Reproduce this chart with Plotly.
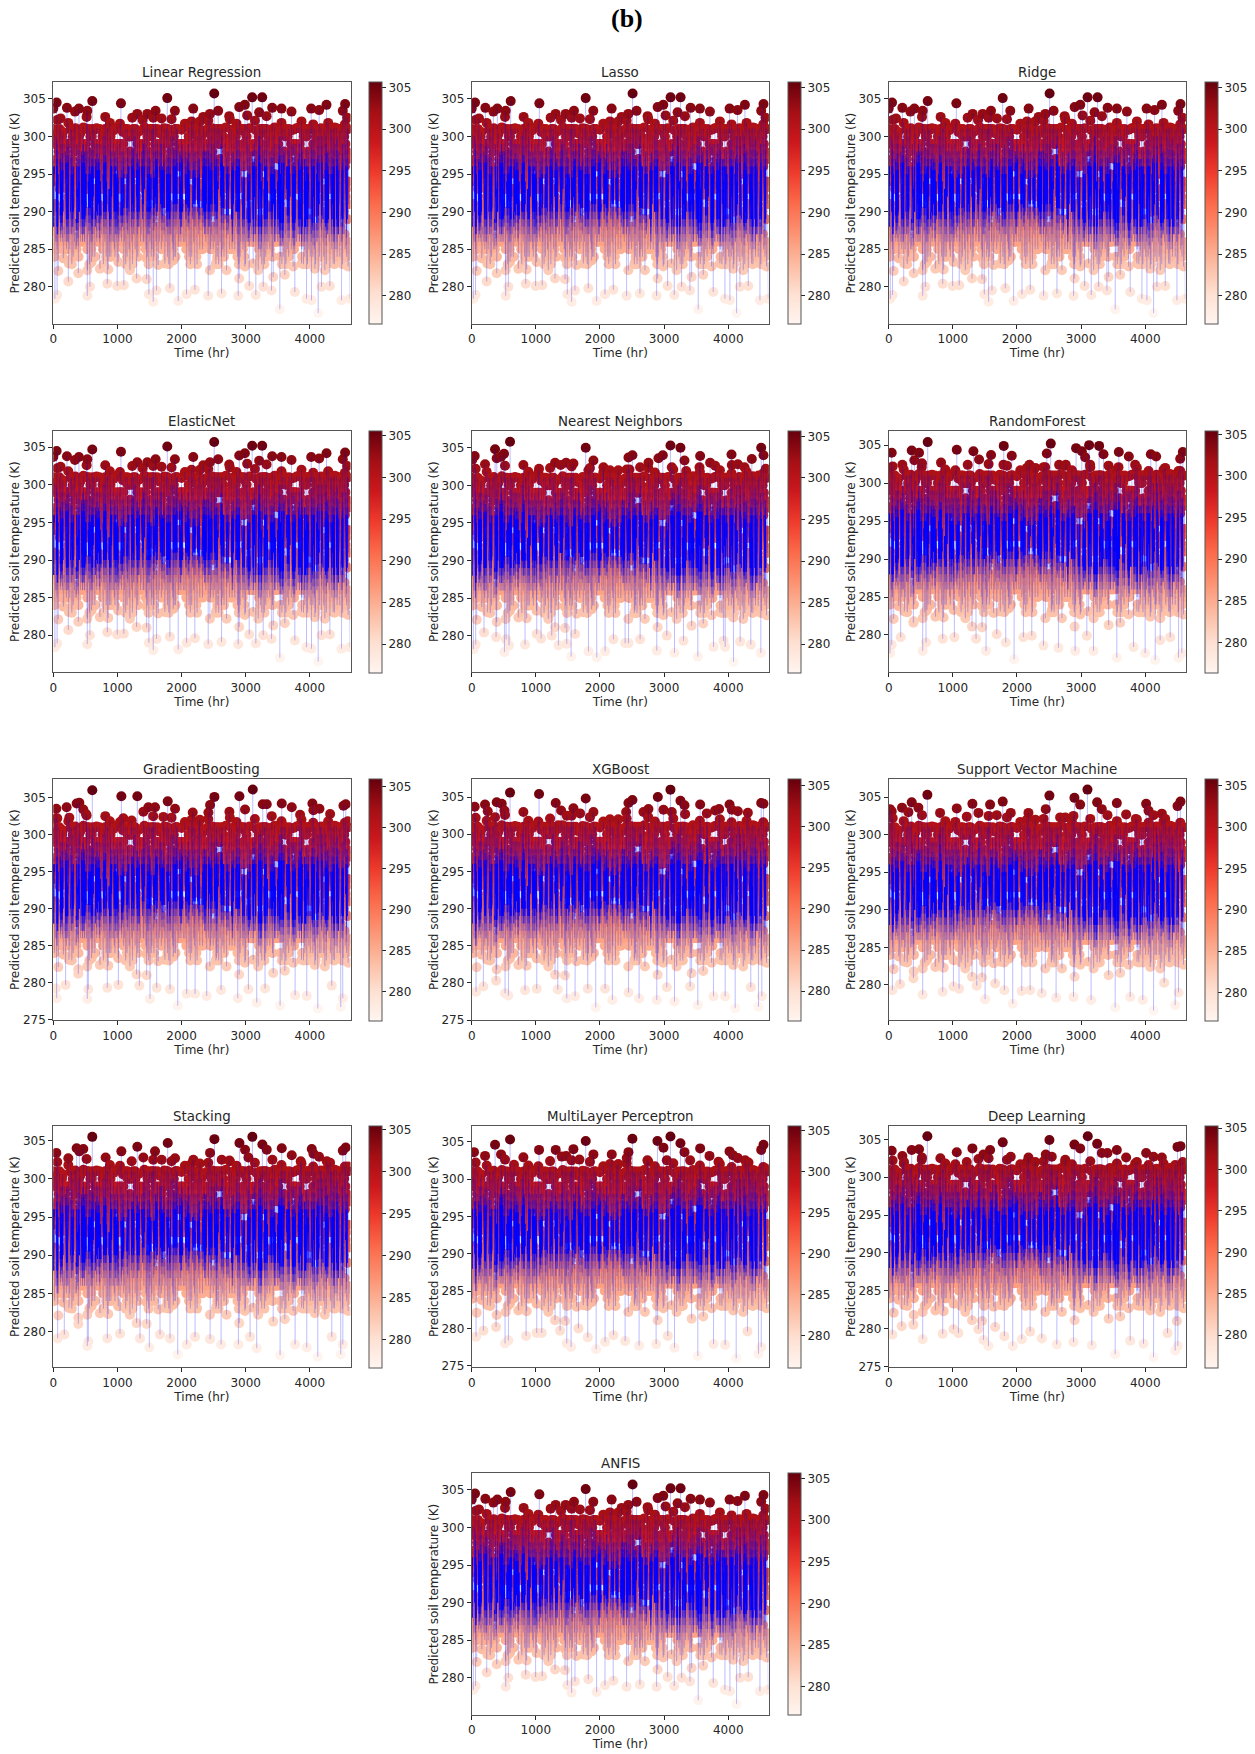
import numpy as np
import plotly.graph_objects as go

NAMES = ["Linear Regression","Lasso","Ridge","ElasticNet","Nearest Neighbors","RandomForest","GradientBoosting","XGBoost","Support Vector Machine","Stacking","MultiLayer Perceptron","Deep Learning","ANFIS"]
Y_MIN = [275.05,275.05,275.05,275.05,275.1,275.07,274.9,274.95,275.28,275.3,274.78,274.87,275.05]
Y_MAX = [307.2,307.2,307.2,307.2,307.27,306.9,307.56,307.47,307.45,306.96,307.14,306.8,307.2]
C_MIN = [276.6,276.6,276.6,276.6,276.6,276.4,276.5,276.4,276.6,276.7,276.1,276.1,276.6]
C_MAX = [305.65,305.65,305.65,305.65,305.7,305.45,306.0,305.9,305.9,305.5,305.6,305.3,305.65]
X_TICKS = [0,1000,2000,3000,4000]
Y_TICKS = [275,280,285,290,295,300,305]
C_TICKS = [280,285,290,295,300,305]

# dense body of the record, read as an estimate (hourly detail cannot be resolved in the picture)
BAND_STEP_HR = 5.25
BAND = [
301,288,296,284,299,291,294,286,300,290,297,285,299,287,295,285,
298,289,300,293,296,286,299,287,294,288,300,286,297,290,299,285,
295,287,299,286,298,291,296,285,299,289,293,286,299,292,297,287,
299,285,295,290,301,287,297,283,294,288,300,284,296,291,301,286,
298,285,300,289,295,285,299,292,293,286,294,284,300,290,296,288,
299,286,297,287,298,291,295,286,299,287,296,289,298,286,293,290,
299,288,296,286,301,285,298,293,294,287,301,283,297,290,300,286,
295,285,300,289,296,284,301,292,298,287,293,284,299,288,297,290,
298,286,295,287,299,291,296,288,298,286,297,286,294,289,299,287,
297,293,300,285,295,283,299,290,296,286,301,288,298,284,294,291,
301,287,297,285,299,290,293,284,300,289,300,284,296,292,298,286,
294,288,299,286,297,285,298,291,296,287,299,286,293,290,298,286,
298,289,294,286,299,287,297,293,299,287,295,286,298,288,296,290,
299,285,298,286,293,291,301,283,297,289,295,284,301,287,300,292,
296,285,300,284,298,290,294,288,300,286,297,283,295,293,301,287,
300,289,296,285,300,285,293,292,298,286,299,284,297,288,295,290,
298,287,299,286,296,287,298,291,294,289,298,286,299,286,297,293,
295,288,299,285,301,292,296,284,300,287,293,283,298,290,301,286,
297,289,295,284,300,285,301,293,296,287,301,284,294,288,299,292,
298,286,297,286,295,290,299,287,298,288,296,286,299,287,293,291,
299,285,298,289,296,286,294,293,300,287,299,285,297,292,295,286,
301,288,293,284,301,291,297,283,299,289,296,284,300,287,298,290,
295,286,300,285,297,293,300,284,294,288,301,284,296,290,301,287,
298,291,293,286,299,286,296,289,298,287,294,286,299,288,297,290,
299,287,296,286,298,293,294,286,299,289,298,285,295,286,297,291,
299,288,300,284,293,290,298,283,296,287,301,284,301,289,295,292,
297,286,301,285,299,293,295,288,298,284,294,283,300,290,296,287,
301,289,297,285,299,286,293,292,300,286,296,285,298,288,295,290,
299,287,298,286,294,286,298,293,296,289,299,287,298,286,297,288,
295,292,299,285,296,287,300,286,298,290,293,285,299,288,297,286,
301,291,295,283,300,287,301,284,294,293,299,283,296,289,301,286,
297,292,299,284,293,288,301,285,300,287,296,284,294,291,299,289,
299,286,297,286,298,293,295,287,298,288,299,285,296,287,294,292,
299,289,300,285,296,286,298,291,293,286,299,285,297,288,300,290,
295,287,299,284,301,293,294,283,297,289,301,284,298,286,296,291,
301,288,294,285,299,290,296,284,301,287,298,283,293,292,300,286,
297,289,299,286,294,293,299,287,296,288,298,286,298,287,295,290,
298,286,296,286,299,292,293,287,294,289,299,286,298,288,298,291,
295,287,300,285,297,293,301,284,296,286,294,283,299,292,301,288,
298,289,293,283,301,291,296,284,301,287,297,285,294,290,300,286,
299,288,296,285,298,293,294,286,300,289,299,284,297,287,300,291,
295,286,298,286,293,290,299,287,298,288,294,286,299,291,297,287,
300,289,295,284,301,292,297,283,293,286,301,284,296,290,298,288,
301,287,300,283,294,293,296,285,300,289,297,284,301,286,295,292,
298,290,299,285,293,288,299,286,295,287,294,285,299,291,296,289,
299,286,298,286,294,293,298,287,297,288,295,286,299,290,298,287,
296,289,301,284,298,291,293,283,300,286,297,284,294,288,301,292,
300,287,296,283,301,293,298,285,294,289,301,284,295,286,297,291,
301,288,293,284,299,292,296,285,301,287,298,283,300,290,295,286,
297,293,300,285,294,291,299,284,296,288,301,284,298,287,300,290,
299,286,295,284,301,292,297,285,293,288,300,283,296,290,298,287,
295,289,299,286,298,293,294,284,301,287,296,285,300,291,297,288,
301,286,293,283,297,290,299,285,295,289,298,284,300,292,296,287,
298,291,300,284,294,288,301,286,296,293,299,283,295,287,297,290,
300,287,296,285,299,292,293,284,298,289,301,286,294,291,297,285,
]
# upper and lower edge of the saturated blue core, one reading per 84 hr
CORE_STEP_HR = 84
CORE_HI = [296,295.5,296.5,295,296,296.5,295,296,295.5,296.5,296,295,294.5,295,296,295.5,296,295,294.5,296,295.5,295,296,296.5,295,295.5,294.5,295,296,295.5,296,296.5,295,295.5,296,294.5,295,296,296.5,296,295,295.5,296.5,296,295,295.5,296,295,296,296.5,295.5,295,296,295.5,296]
CORE_LO = [288,289.5,289,290,288.5,289,290.5,289,289.5,290,289,290,289.5,290.5,290,290,291,290,290.5,291,290.5,290,291,290,291,290.5,291,290.5,290,291,290,290.5,289.5,289,290,289,288.5,289,288,289,290,289,288.5,289.5,288.5,289,288,289,288.5,289.5,288.5,289,288,289,288.5]
# crowd of dots along the upper and lower edges of the body
TOP_CROWD_H = [62,234,519,675,883,1039,1558,1844,2052,2156,2286,2416,2753,2857,3143,3558,3792,3870,4052,4286,4416,4546]
TOP_CROWD_T = [302.2,301.8,302.6,301.1,301.8,301.7,302.5,302.3,301.7,302.0,302.0,302.1,302.3,301.7,302.1,301.8,301.1,302.0,301.6,301.8,301.1,301.6]
TOP_FILL_H = [20,95,150,285,345,420,470,570,640,720,790,850,940,1000,1085,1150,1215,1275,1345,1420,1490,1530,1620,1665,1730,1800,1870,1935,2000,2110,2210,2260,2350,2390,2475,2540,2620,2690,2780,2815,2930,2965,3060,3165,3235,3290,3370,3450,3510,3610,3680,3745,3830,3905,3970,4100,4175,4240,4335,4385,4460,4600]
TOP_FILL_T = [300.3,301.0,300.6,300.9,301.1,300.4,301.2,300.7,300.9,301.0,300.5,301.1,300.8,301.2,300.6,300.2,300.9,301.0,300.7,301.2,300.6,300.9,301.0,300.4,301.1,300.8,300.6,301.0,300.9,301.2,300.7,301.0,300.5,300.9,301.1,300.6,300.8,301.2,300.9,300.4,301.0,300.7,301.1,300.8,300.5,301.0,300.9,301.2,300.6,301.0,300.7,300.9,301.2,300.5,301.0,300.8,301.1,300.6,300.9,301.2,300.7,301.0]
MID_FILL_H = [15,60,110,165,215,262,310,355,405,460,510,560,605,655,705,745,800,845,895,950,990,1040,1095,1140,1190,1240,1290,1335,1385,1430,1480,1525,1575,1625,1670,1720,1765,1815,1860,1910,1960,2005,2055,2100,2145,2195,2245,2295,2340,2385,2435,2485,2530,2580,2625,2675,2720,2770,2815,2865,2910,2960,3010,3055,3105,3150,3200,3250,3295,3345,3390,3440,3490,3535,3585,3630,3680,3725,3775,3820,3870,3915,3965,4015,4060,4110,4155,4205,4255,4300,4350,4395,4445,4490,4540,4585]
MID_FILL_T = [295,290,297,288,295,291,296,289,294,290,298,288,295,290,297,289,296,291,295,288,294,290,297,289,295,291,296,288,294,290,298,289,295,291,297,288,296,290,295,289,294,291,297,288,295,290,296,289,298,291,295,288,294,290,297,289,296,291,295,288,294,290,297,289,295,291,298,288,296,290,295,289,294,291,297,288,295,290,296,289,298,291,295,288,294,290,297,289,296,291,295,288,294,290,297,289]
LOW_CROWD_H = [78,156,244,390,530,597,649,727,857,961,1013,1195,1299,1455,1455,1636,1740,1870,2442,2546,2701,2899,2987,3117,3195,3429,3610,3740,3870,4078,4234,4364,4519,4597]
LOW_CROWD_T = [282.1,283.8,283.1,281.8,282.2,283.3,284.0,282.4,282.3,284.0,283.3,282.2,281.1,283.8,281.0,282.9,283.1,283.5,282.2,283.3,282.2,281.1,282.7,283.1,282.2,281.3,281.6,282.7,283.1,282.4,282.2,283.1,283.3,282.7]
# hours where the orange body shows through the blue strands
STREAK_H = [30,90,170,250,340,420,530,640,760,850,930,1030,1120,1200,1280,1360,1440,1540,1640,1750,1850,1950,2040,2150,2230,2300,2400,2490,2590,2680,2760,2830,2920,3000,3090,3180,3270,3360,3480,3620,3710,3800,3900,4000,4090,4160,4220,4310,4400,4470,4540,4600]

# individually visible upper dots (hr, K)
LR_TOP_H = [0,52,213,338,400,530,608,810,1055,114,1231,1309,1392,1465,1595,1688,1777,1896,2182,2338,2442,2509,2571,2743,2899,2987,3023,3101,3210,3257,3325,3413,3558,3714,4021,4145,4260,4514,4550,4582]
LR_TOP_T = [303.7,304.5,303.8,303.3,303.7,303.4,304.7,302.6,304.4,302.4,302.5,303.0,302.2,303.0,303.4,302.4,305.1,303.4,303.7,302.6,303.0,305.7,303.4,302.7,303.9,304.2,302.8,305.2,303.2,305.2,302.7,303.8,303.7,303.3,303.7,303.5,304.2,303.4,304.3,302.5]
LR_LOW_H = [25,60,234,530,571,842,997,1100,1491,1558,1610,1818,1948,2078,2208,2415,2623,2883,3055,3158,3273,3403,3532,3766,3948,4026,4130,4182,4312,4494,4623]
LR_LOW_T = [278.4,278.9,280.7,278.8,280.0,280.4,280.1,280.2,279.0,278.0,279.5,279.8,278.1,279.0,279.6,278.8,279.1,278.8,280.1,278.9,280.0,279.5,277.0,279.3,278.4,278.2,276.5,280.0,280.1,278.2,278.4]

NN_TOP_H = [10,47,208,364,390,458,504,598,806,1050,1222,1300,1388,1472,1586,1778,1820,1898,2054,2444,2460,2506,2626,2756,2912,2980,3099,3120,3255,3318,3344,3552,3562,3718,3796,4051,4056,4150,4254,4295,4368,4472,4514,4550,4586]
NN_TOP_T = [303.4,303.9,302.8,304.8,303.6,303.8,304.2,305.8,302.7,302.2,302.3,303.0,302.7,303.0,302.9,305.0,302.0,303.3,302.4,303.7,302.1,304.0,302.4,303.0,303.6,304.0,305.3,302.4,305.0,303.3,301.9,302.4,303.9,303.0,302.6,304.1,302.7,302.8,302.4,301.4,303.5,301.3,305.0,304.0,302.2]
NN_LOW_H = [26,62,192,380,510,536,582,832,1014,1082,1248,1352,1482,1550,1612,1820,1950,2080,2210,2392,2444,2626,2886,3042,3162,3302,3526,3770,3926,3952,4082,4186,4352,4508]
NN_LOW_T = [278.2,278.8,280.4,279.8,277.8,279.5,278.7,278.8,280.2,279.6,280.0,278.7,278.9,277.2,280.2,277.9,277.1,277.9,279.5,279.0,279.0,279.5,278.0,280.0,277.7,279.3,277.2,278.5,279.3,278.5,276.5,279.2,278.8,277.7]

RF_TOP_H = [0,47,213,359,400,473,515,608,816,1061,1232,1321,1409,1596,1789,1794,1919,2194,2439,2465,2527,2657,2761,2922,3011,3063,3125,3141,3281,3349,3427,3583,3588,3744,3843,4087,4170,4311,4519,4545,4586]
RF_TOP_T = [302.0,304.0,302.4,304.3,303.0,304.0,302.1,305.4,302.7,304.4,302.4,304.2,303.1,303.7,302.4,304.9,303.6,302.4,302.1,303.9,305.2,302.4,302.4,304.6,304.2,303.4,305.0,302.4,304.9,303.8,302.3,302.1,304.1,303.5,302.4,303.8,303.5,302.0,301.6,303.2,304.1]
RF_LOW_H = [20,47,187,385,530,582,842,1024,1362,1518,1685,1825,1955,2100,2231,2413,2647,2907,3089,3193,3557,3817,3999,4155,4233,4389,4519,4571]
RF_LOW_T = [277.6,278.7,279.7,281.6,277.9,279.0,279.5,279.7,279.5,277.9,280.1,279.0,276.8,279.7,279.9,278.6,278.3,277.9,279.9,277.9,277.0,278.4,277.6,276.7,279.3,279.7,277.0,277.6]

GB_TOP_H = [26,47,208,250,364,406,468,510,608,811,1061,1092,1222,1310,1404,1482,1586,1716,1784,1898,2174,2278,2418,2444,2512,2746,2902,2990,3110,3266,3328,3406,3562,3718,3848,4040,4056,4150,4316,4524,4560,4592]
GB_TOP_T = [302.2,303.5,303.7,302.3,304.2,304.3,303.4,302.8,306.0,302.5,305.2,302.2,301.9,305.2,303.1,303.7,303.7,302.4,304.5,303.5,303.0,301.9,303.0,304.0,305.1,303.1,305.2,303.4,306.1,304.1,304.1,302.5,304.2,303.7,302.7,304.2,303.3,303.5,302.8,303.9,304.1,301.8]
GB_LOW_H = [42,52,192,390,530,546,842,1014,1342,1508,1612,1820,1940,2080,2210,2392,2616,2876,3042,3172,3302,3536,3770,3952,4124,4342,4482,4514]
GB_LOW_T = [279.2,277.9,279.7,281.2,277.8,279.1,279.3,279.7,279.6,277.8,279.3,279.1,276.9,278.5,278.5,278.2,279.0,277.9,279.1,277.3,279.2,276.9,278.3,278.2,276.5,279.6,276.7,277.9]

XGB_TOP_H = [47,208,250,364,390,468,510,598,806,1050,1222,1310,1352,1394,1482,1586,1690,1778,1898,2408,2444,2506,2678,2756,2902,2990,3099,3120,3255,3318,3328,3562,3666,3796,3858,4020,4056,4150,4306,4514,4550]
XGB_TOP_T = [303.7,304.0,303.1,302.3,304.3,304.1,303.2,305.6,303.0,305.4,302.1,304.2,301.2,303.2,302.5,303.5,302.8,304.8,303.0,303.0,304.2,304.6,303.0,303.4,305.0,303.3,306.0,303.0,304.5,303.9,302.7,304.0,302.8,303.2,303.4,304.0,303.3,303.1,302.9,304.2,304.1]
XGB_LOW_H = [68,182,380,520,572,832,1014,1342,1482,1612,1810,1934,2080,2194,2444,2610,2886,3042,3162,3406,3526,3770,3952,4108,4352,4472,4524]
XGB_LOW_T = [278.8,279.5,280.3,278.6,278.3,279.0,279.2,279.1,277.9,278.2,279.2,276.7,279.2,277.7,278.7,277.9,277.7,279.4,277.5,279.5,277.0,278.2,278.2,276.6,279.4,276.8,278.2]

SVM_TOP_H = [20,47,208,307,359,463,603,801,1061,1217,1305,1399,1581,1685,1778,1903,2179,2449,2506,2673,2881,2896,2985,3099,3250,3323,3411,3557,3702,3853,4014,4051,4129,4259,4311,4503,4550]
SVM_TOP_T = [303.4,303.1,303.6,303.0,304.3,303.6,305.3,302.9,303.5,302.4,304.1,302.9,304.0,302.6,304.4,302.9,302.9,303.4,305.2,302.3,302.5,304.9,304.0,306.0,304.3,303.4,302.6,304.2,302.7,302.1,304.1,303.2,302.6,302.8,302.1,303.8,304.4]
SVM_LOW_H = [57,177,385,530,842,1009,1097,1373,1503,1659,1804,1934,2075,2205,2387,2610,2881,3156,3531,3765,3962,4129,4295,4467,4519]
SVM_LOW_T = [279.3,280.1,280.9,278.7,279.1,279.8,279.5,279.9,278.1,280.2,279.3,277.5,279.2,279.3,278.9,278.3,278.4,278.0,277.0,278.4,278.0,276.6,280.3,277.3,279.0]

ST_TOP_H = [47,234,364,406,468,608,816,1061,1222,1310,1404,1586,1690,1784,1898,2184,2444,2512,2626,2746,2902,2990,3042,3104,3260,3328,3416,3562,3718,3858,4030,4056,4144,4264,4316,4514,4560,4602]
ST_TOP_T = [303.4,302.7,304.0,303.6,303.9,305.5,302.8,303.6,302.3,304.2,302.8,303.6,302.5,304.7,302.7,302.5,303.4,305.2,302.5,302.4,304.7,303.8,302.8,305.5,304.5,303.8,302.5,304.0,303.1,302.3,303.9,303.3,302.9,302.3,302.1,303.7,304.1,301.6]
ST_LOW_H = [68,172,390,530,546,842,1040,1352,1498,1664,1820,1940,2080,2210,2444,2616,2886,3068,3172,3536,3770,3952,4124,4342,4482,4514]
ST_LOW_T = [279.1,279.6,281.0,278.1,278.7,279.1,279.7,279.1,277.9,279.6,279.1,277.0,278.3,279.3,279.0,278.3,278.3,279.3,277.8,276.9,278.3,277.9,276.7,279.3,277.0,278.3]

MLP_TOP_H = [36,208,364,458,598,660,806,1050,1222,1310,1404,1472,1586,1680,1778,1898,2184,2262,2418,2444,2506,2740,2896,2990,3042,3099,3255,3318,3406,3562,3708,3848,4020,4072,4150,4264,4316,4514,4550,4586]
MLP_TOP_T = [303.6,303.1,304.6,303.3,305.3,301.9,302.9,303.9,302.4,303.9,303.0,303.1,304.0,302.6,305.1,303.3,303.3,301.8,302.8,303.6,305.4,302.5,305.1,304.2,302.5,305.7,304.8,303.6,302.5,304.1,303.1,302.3,303.7,303.2,302.8,302.5,302.2,303.9,304.6,301.4]
MLP_LOW_H = [68,182,380,520,572,848,1014,1092,1378,1482,1550,1664,1810,1940,2080,2210,2392,2610,2876,3058,3162,3526,3770,3952,4124,4300,4472,4514]
MLP_LOW_T = [278.9,279.7,280.2,278.0,278.4,279.0,279.4,279.4,279.7,278.0,277.5,280.0,278.8,277.2,278.2,279.1,278.3,277.7,277.9,279.0,277.4,276.3,277.9,277.8,276.0,279.6,276.6,277.5]

DL_TOP_H = [47,213,239,359,473,515,603,806,1061,1217,1305,1399,1477,1581,1778,1903,2179,2449,2506,2543,2751,2896,2985,3104,3250,3323,3411,3557,3702,3843,4014,4129,4259,4467,4503,4550,4586]
DL_TOP_T = [303.5,302.8,302.0,303.6,303.7,302.3,305.4,302.5,303.3,302.0,303.8,302.4,303.0,303.6,304.6,302.7,302.6,303.0,304.9,302.7,302.0,304.3,303.8,305.4,304.4,303.2,303.2,303.6,302.6,301.8,303.2,302.7,302.6,301.6,304.0,304.1,302.0]
DL_LOW_H = [57,203,385,530,842,1009,1087,1399,1477,1555,1659,1804,1934,2075,2205,2387,2621,2881,3167,3531,3765,3973,4129,4347,4467,4493,4508]
DL_LOW_T = [279.2,280.3,280.5,278.6,279.3,279.9,279.4,279.9,278.5,277.7,280.2,279.0,277.7,278.6,279.6,278.7,277.9,278.2,277.8,276.6,278.4,278.0,276.2,279.4,277.1,281.0,277.7]

TOP_H = [LR_TOP_H]*4 + [NN_TOP_H,RF_TOP_H,GB_TOP_H,XGB_TOP_H,SVM_TOP_H,ST_TOP_H,MLP_TOP_H,DL_TOP_H,LR_TOP_H]
TOP_T = [LR_TOP_T]*4 + [NN_TOP_T,RF_TOP_T,GB_TOP_T,XGB_TOP_T,SVM_TOP_T,ST_TOP_T,MLP_TOP_T,DL_TOP_T,LR_TOP_T]
LOW_H = [LR_LOW_H]*4 + [NN_LOW_H,RF_LOW_H,GB_LOW_H,XGB_LOW_H,SVM_LOW_H,ST_LOW_H,MLP_LOW_H,DL_LOW_H,LR_LOW_H]
LOW_T = [LR_LOW_T]*4 + [NN_LOW_T,RF_LOW_T,GB_LOW_T,XGB_LOW_T,SVM_LOW_T,ST_LOW_T,MLP_LOW_T,DL_LOW_T,LR_LOW_T]

W, H = 1255, 1754
COL_L = [53.3, 471.7, 888.7]
ROW_T = [82.3, 430.7, 778.7, 1125.7, 1473.3]
AX_W, AX_H, CB_GAP, CB_W = 297.2, 241.7, 18.6, 12.7
SLOTS = [(r, c) for r in range(4) for c in range(3)] + [(4, 1)]
INK = "#262626"
FONT = "DejaVu Sans"
# strand layers around the blue core: (margin above core, margin below core, alpha, width, broken at streaks)
LAYERS = [(None, None, 0.20, 0.7, False), (3.5, 3.0, 0.18, 0.6, True), (2.2, 2.0, 0.28, 0.6, True),
          (1.0, 1.0, 0.40, 0.7, True), (0.0, 0.0, 0.90, 0.9, True)]

fig = go.Figure()
band_h = np.arange(len(BAND)) * BAND_STEP_HR
layout = {}
for i, name in enumerate(NAMES):
    r, c = SLOTS[i]
    n = "" if i == 0 else str(i + 1)
    L, T = COL_L[c], ROW_T[r]
    hr = np.concatenate([band_h, MID_FILL_H, TOP_FILL_H, TOP_CROWD_H, LOW_CROWD_H, TOP_H[i], LOW_H[i]])
    val = np.concatenate([BAND, MID_FILL_T, TOP_FILL_T, TOP_CROWD_T, LOW_CROWD_T, TOP_T[i], LOW_T[i]]).astype(float)
    order = np.argsort(hr, kind="stable")
    hr, val = hr[order], val[order]
    block = np.minimum((hr // CORE_STEP_HR).astype(int), len(CORE_HI) - 1)
    core_hi, core_lo = np.array(CORE_HI)[block], np.array(CORE_LO)[block]
    near = np.min(np.abs(hr[:, None] - np.array(STREAK_H)[None, :]), axis=1) < 15
    fig.add_trace(go.Scatter(
        x=hr, y=val, mode="markers", xaxis=f"x{n}", yaxis=f"y{n}", showlegend=False,
        marker=dict(size=10, color=val, colorscale="Reds", cmin=C_MIN[i], cmax=C_MAX[i],
                    colorbar=dict(x=(L + AX_W + CB_GAP) / W, xanchor="left", xpad=0, ypad=0,
                                  y=1 - (T + AX_H / 2) / H, yanchor="middle",
                                  lenmode="pixels", len=AX_H, thickness=CB_W,
                                  outlinecolor="#555555", outlinewidth=1,
                                  tickmode="array", tickvals=C_TICKS, ticks="outside", ticklen=4,
                                  tickcolor=INK, tickfont=dict(family=FONT, size=12, color=INK)))))
    for up, down, alpha, width, broken in LAYERS:
        y = val if up is None else np.clip(val, core_lo - down, core_hi + up)
        if broken:
            y = np.where(near, np.nan, y)
        fig.add_trace(go.Scatter(
            x=hr, y=y, mode="lines", xaxis=f"x{n}", yaxis=f"y{n}", showlegend=False, connectgaps=False,
            line=dict(color=f"rgba(0,0,255,{alpha})", width=width)))
    axis = dict(showgrid=False, zeroline=False, showline=True, mirror=True, linecolor="#555555",
                linewidth=1, ticks="outside", ticklen=4, tickcolor=INK, automargin=False,
                tickfont=dict(family=FONT, size=12, color=INK))
    layout[f"xaxis{n}"] = dict(axis, domain=[L / W, (L + AX_W) / W], range=[0, 4634], anchor=f"y{n}",
                               tickmode="array", tickvals=X_TICKS,
                               title=dict(text="Time (hr)", standoff=3, font=dict(family=FONT, size=12, color=INK)))
    layout[f"yaxis{n}"] = dict(axis, domain=[1 - (T + AX_H) / H, 1 - T / H], range=[Y_MIN[i], Y_MAX[i]], anchor=f"x{n}",
                               tickmode="array", tickvals=Y_TICKS,
                               title=dict(text="Predicted soil temperature (K)", standoff=0, font=dict(family=FONT, size=12, color=INK)))

annotations = [dict(text=name, xref="paper", yref="paper", x=(COL_L[SLOTS[i][1]] + AX_W / 2) / W,
                    y=1 - (ROW_T[SLOTS[i][0]] - 9.5) / H, showarrow=False, xanchor="center", yanchor="middle",
                    font=dict(family=FONT, size=13.4, color=INK)) for i, name in enumerate(NAMES)]
annotations.append(dict(text="<b>(b)</b>", xref="paper", yref="paper", x=627 / W, y=1 - 18 / H, showarrow=False,
                        xanchor="center", yanchor="middle", font=dict(family="Liberation Serif", size=26, color="black")))
fig.update_layout(width=W, height=H, margin=dict(l=0, r=0, t=0, b=0, autoexpand=False), paper_bgcolor="white", plot_bgcolor="white",
                  showlegend=False, annotations=annotations, **layout)
fig.write_html("out.html", post_script="document.body.style.margin='0';", config=dict(displayModeBar=False))
